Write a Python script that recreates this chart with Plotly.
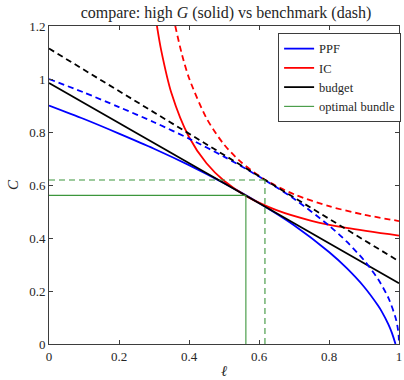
import plotly.graph_objects as go

# leisure grid for curves
ell_ppf = [0, 0.1, 0.2, 0.3, 0.4, 0.5, 0.6, 0.7, 0.8, 0.85, 0.9, 0.94, 0.95, 0.97, 0.98, 0.99]
ppf_high = [0.9, 0.849, 0.794, 0.737, 0.675, 0.607, 0.532, 0.448, 0.347, 0.287, 0.216, 0.145, 0.124, 0.073, 0.041, 0.0]
ell_ppf_b = [0, 0.1, 0.2, 0.3, 0.4, 0.5, 0.6, 0.7, 0.8, 0.85, 0.9, 0.94, 0.97, 0.99, 0.995, 0.999, 1.0]
ppf_bench = [1.0, 0.949, 0.894, 0.837, 0.775, 0.707, 0.632, 0.548, 0.447, 0.387, 0.316, 0.245, 0.173, 0.1, 0.071, 0.032, 0.0]

ell_ic_h = [0.30, 0.31, 0.32, 0.35, 0.40, 0.45, 0.50, 0.5625, 0.65, 0.75, 0.85, 1.0]
ic_high = [1.277, 1.187, 1.112, 0.946, 0.781, 0.682, 0.616, 0.559, 0.505, 0.465, 0.438, 0.409]
ell_ic_b = [0.35, 0.36, 0.38, 0.40, 0.45, 0.50, 0.55, 0.617, 0.70, 0.80, 0.90, 1.0]
ic_bench = [1.274, 1.205, 1.092, 1.004, 0.852, 0.753, 0.685, 0.620, 0.565, 0.520, 0.488, 0.464]

ell_budget = [0, 1]
budget_high = [0.985, 0.229]
budget_bench = [1.115, 0.312]

opt_high = (0.5625, 0.561)
opt_bench = (0.617, 0.619)

x_ticks = [0, 0.2, 0.4, 0.6, 0.8, 1]
x_ticklabels = ["0", "0.2", "0.4", "0.6", "0.8", "1"]
y_ticks = [0, 0.2, 0.4, 0.6, 0.8, 1, 1.2]
y_ticklabels = ["0", "0.2", "0.4", "0.6", "0.8", "1", "1.2"]

BLUE = "#0000ff"
RED = "#ff0000"
BLACK = "#000000"
GREEN = "rgb(60,150,60)"
DASH = "6px,4px"
LW = 1.8
SERIF = "Liberation Serif"
TXT = "#262626"

fig = go.Figure()

def add(x, y, color, dash, name=None, width=LW, spline=True):
    fig.add_trace(go.Scatter(
        x=x, y=y, mode="lines",
        line=dict(color=color, width=width, dash=dash,
                  shape="spline" if spline else "linear", smoothing=0.8),
        name=name or "", showlegend=name is not None, hoverinfo="skip"))

add(ell_ppf, ppf_high, BLUE, "solid", "PPF")
add(ell_ic_h, ic_high, RED, "solid", "IC")
add(ell_budget, budget_high, BLACK, "solid", "budget", spline=False)
add([opt_high[0], opt_high[0]], [0, opt_high[1]], GREEN, "solid", "optimal bundle", width=1.1, spline=False)
add([0, opt_high[0]], [opt_high[1], opt_high[1]], GREEN, "solid", width=1.1, spline=False)

add(ell_ppf_b, ppf_bench, BLUE, DASH)
add(ell_ic_b, ic_bench, RED, DASH)
add(ell_budget, budget_bench, BLACK, DASH, spline=False)
add([opt_bench[0], opt_bench[0]], [0, opt_bench[1]], GREEN, DASH, width=1.1, spline=False)
add([0, opt_bench[0]], [opt_bench[1], opt_bench[1]], GREEN, DASH, width=1.1, spline=False)

axis_common = dict(
    showgrid=False, zeroline=False, showline=True, linecolor="#3d3d3d", linewidth=1,
    mirror="allticks", ticks="inside", ticklen=4, tickcolor="#3d3d3d",
    tickfont=dict(family=SERIF, size=13, color=TXT),
)

fig.update_layout(
    width=404, height=380,
    margin=dict(l=49, r=3, t=26, b=36),
    plot_bgcolor="white", paper_bgcolor="white",
    title=dict(text="compare: high <i>G</i> (solid) vs benchmark (dash)",
               x=226 / 404, xanchor="center", y=0.968, yanchor="middle",
               font=dict(family=SERIF, size=16, color=TXT)),
    xaxis=dict(range=[0, 1], tickvals=x_ticks, ticktext=x_ticklabels,
               title=dict(text="<i>ℓ</i>", font=dict(family=SERIF, size=15, color=TXT), standoff=2),
               **axis_common),
    yaxis=dict(range=[0, 1.2], tickvals=y_ticks, ticktext=y_ticklabels,
               title=dict(text="<i>C</i>", font=dict(family=SERIF, size=15, color=TXT), standoff=6),
               **axis_common),
    legend=dict(x=1.006, xanchor="right", y=0.978, yanchor="top",
                bgcolor="white", bordercolor="#3d3d3d", borderwidth=1,
                font=dict(family=SERIF, size=12.5, color=TXT),
                tracegroupgap=0, itemwidth=30),
    showlegend=True,
)

fig.write_html("out.html")
